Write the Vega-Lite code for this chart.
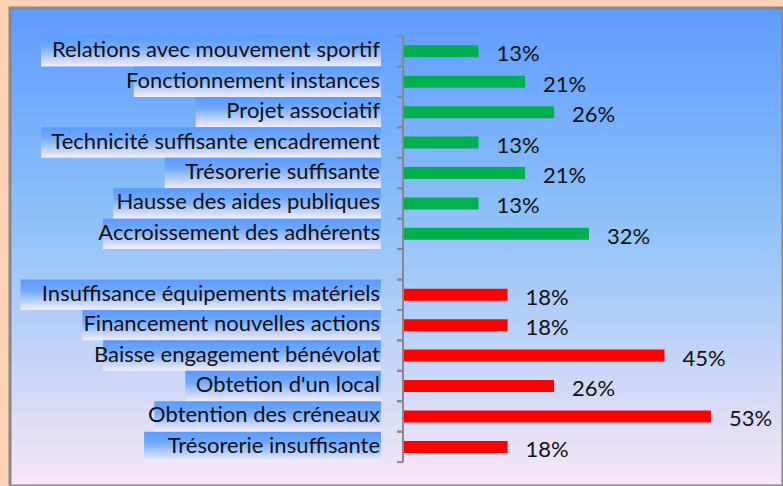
{
  "$schema": "https://vega.github.io/schema/vega-lite/v6.json",
  "width": 773,
  "height": 478,
  "autosize": "none",
  "padding": {"left": 10, "top": 8, "right": 0, "bottom": 0},
  "background": "#fdd2b4",
  "view": {
    "fill": {"gradient": "linear", "x1": 0, "y1": 0, "x2": 0, "y2": 1,
      "stops": [{"offset": 0, "color": "#5f9bff"}, {"offset": 0.45, "color": "#8fc2f8"}, {"offset": 1, "color": "#f8e6f6"}]},
    "stroke": "#888888",
    "strokeWidth": 3
  },
  "config": {"font": "Lato"},
  "data": {"values": [
    {"cat": "Relations avec mouvement sportif ", "value": 13, "group": "atout"},
    {"cat": "Fonctionnement instances", "value": 21, "group": "atout"},
    {"cat": "Projet associatif ", "value": 26, "group": "atout"},
    {"cat": "Technicité suffisante encadrement", "value": 13, "group": "atout"},
    {"cat": "Trésorerie suffisante", "value": 21, "group": "atout"},
    {"cat": "Hausse des aides publiques", "value": 13, "group": "atout"},
    {"cat": "Accroissement des adhérents", "value": 32, "group": "atout"},
    {"cat": "", "value": null, "group": "vide"},
    {"cat": "Insuffisance équipements matériels ", "value": 18, "group": "frein"},
    {"cat": "Financement nouvelles actions", "value": 18, "group": "frein"},
    {"cat": "Baisse engagement bénévolat", "value": 45, "group": "frein"},
    {"cat": "Obtetion d'un local", "value": 26, "group": "frein"},
    {"cat": "Obtention des créneaux", "value": 53, "group": "frein"},
    {"cat": "Trésorerie insuffisante", "value": 18, "group": "frein"}
  ]},
  "transform": [
    {"calculate": "-length(datum.cat)", "as": "neg"},
    {"calculate": "datum.value == null ? '' : datum.value + '%'", "as": "pct"}
  ],
  "encoding": {
    "y": {"field": "cat", "type": "nominal", "sort": null, "axis": null,
      "scale": {"paddingInner": 0, "paddingOuter": 0.854, "align": 0.54}}
  },
  "layer": [
    {
      "mark": {"type": "bar", "fill": {"gradient": "linear", "x1": 0, "y1": 0, "x2": 0, "y2": 1,
        "stops": [{"offset": 0, "color": "#5b9bff"}, {"offset": 0.35, "color": "#6fa8ff"}, {"offset": 1, "color": "#f6eefa"}]}},
      "encoding": {
        "x": {"field": "neg", "type": "quantitative", "axis": null,
          "scale": {"domain": [-36.02, 39.03], "nice": false, "zero": false}},
        "x2": {"datum": 0}
      }
    },
    {
      "mark": {"type": "text", "align": "right", "baseline": "alphabetic", "dy": 6, "dx": -1, "fontSize": 22, "color": "#111111"},
      "encoding": {
        "x": {"datum": 0, "type": "quantitative", "axis": null,
          "scale": {"domain": [-36.02, 39.03], "nice": false, "zero": false}},
        "text": {"field": "cat"}
      }
    },
    {
      "mark": {"type": "bar", "size": 12},
      "encoding": {
        "x": {"field": "value", "type": "quantitative", "axis": null,
          "scale": {"domain": [-67.64, 65.4], "nice": false, "zero": false}},
        "x2": {"datum": 0},
        "color": {"field": "group", "type": "nominal", "legend": null,
          "scale": {"domain": ["atout", "frein"], "range": ["#00b050", "#ff0000"]}}
      }
    },
    {
      "mark": {"type": "text", "align": "left", "baseline": "alphabetic", "dx": 18, "dy": 10, "fontSize": 22, "color": "#111111"},
      "encoding": {
        "x": {"field": "value", "type": "quantitative", "axis": null,
          "scale": {"domain": [-67.64, 65.4], "nice": false, "zero": false}},
        "text": {"field": "pct"}
      }
    },
    {
      "mark": {"type": "bar", "color": "#888888"},
      "encoding": {
        "x": {"datum": -0.17, "type": "quantitative", "axis": null,
          "scale": {"domain": [-67.64, 65.4], "nice": false, "zero": false}},
        "x2": {"datum": 0.17}
      }
    },
    {
      "mark": {"type": "rule", "color": "#888888", "strokeWidth": 2},
      "encoding": {
        "x": {"datum": -1.03, "type": "quantitative", "axis": null,
          "scale": {"domain": [-67.64, 65.4], "nice": false, "zero": false}},
        "x2": {"datum": 0},
        "y": {"field": "cat", "type": "nominal", "sort": null, "bandPosition": 0}
      }
    },
    {
      "mark": {"type": "rule", "color": "#888888", "strokeWidth": 2},
      "encoding": {
        "x": {"datum": -1.03, "type": "quantitative", "axis": null,
          "scale": {"domain": [-67.64, 65.4], "nice": false, "zero": false}},
        "x2": {"datum": 0},
        "y": {"field": "cat", "type": "nominal", "sort": null, "bandPosition": 1}
      }
    }
  ],
  "resolve": {"scale": {"x": "independent", "color": "independent"}}
}
